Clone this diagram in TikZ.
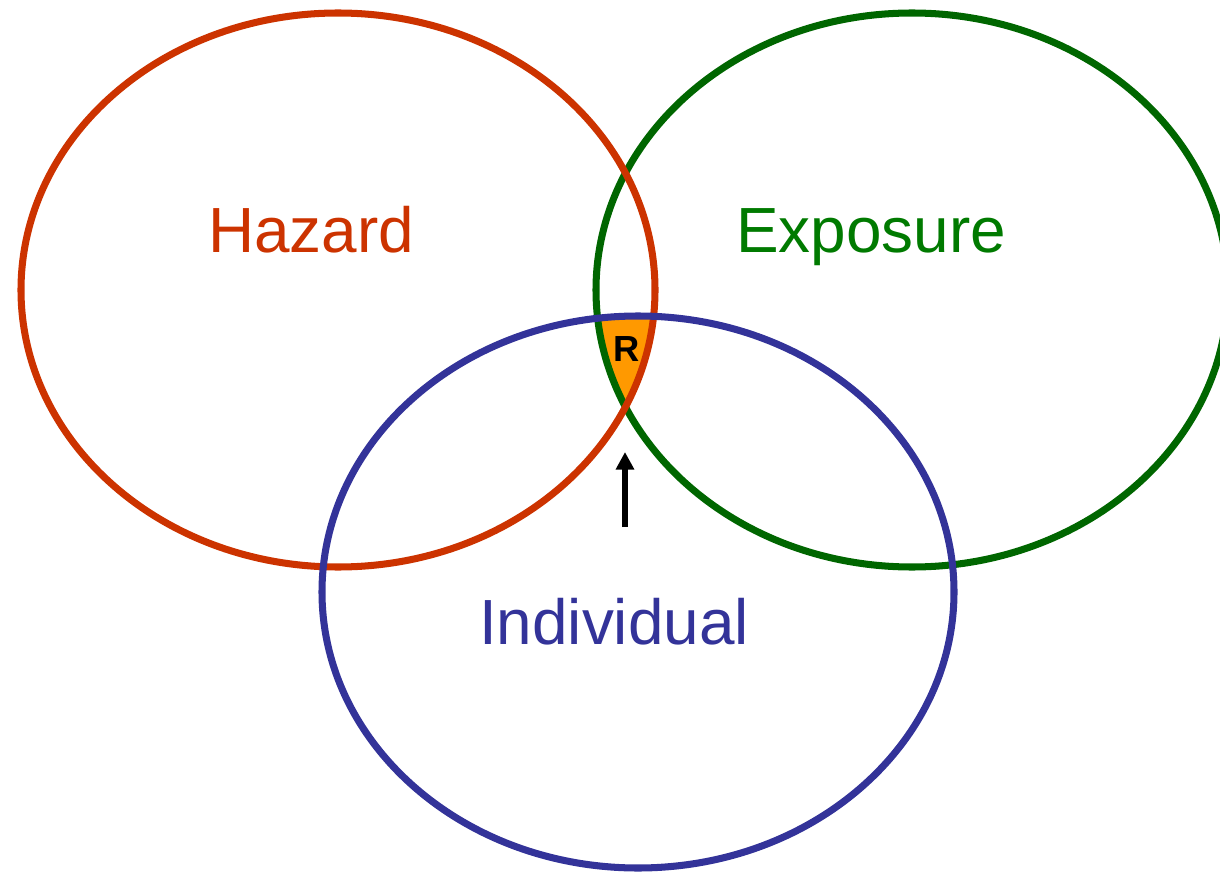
\documentclass[tikz,border=0pt]{standalone}
\usepackage{fontspec}
\setmainfont{Liberation Sans}
\usetikzlibrary{arrows.meta}
\definecolor{hazardred}{HTML}{CC3300}
\definecolor{exposuregreen}{HTML}{006600}
\definecolor{exposuretext}{HTML}{007A00}
\definecolor{individualblue}{HTML}{333399}
\definecolor{riskorange}{HTML}{FF9900}
\tikzset{
  ring/.style={line width=6pt},
  setlabel/.style={font=\fontsize{54.5}{58}\selectfont, inner sep=0pt, anchor=base},
}
\begin{document}
\begin{tikzpicture}[x=0.03cm, y=-0.03cm]
      \useasboundingbox (0,0) rectangle (1220,872);
      % overlap of all three sets
      \begin{scope}
        \clip (338,290) ellipse [x radius=317, y radius=277];
        \clip (912,290) ellipse [x radius=316, y radius=277];
        \fill[riskorange] (638,592) ellipse [x radius=316, y radius=276];
      \end{scope}
      % the three sets
      \draw[ring, exposuregreen] (912,290) ellipse [x radius=316, y radius=277];
      \draw[ring, hazardred] (338,290) ellipse [x radius=317, y radius=277];
      \draw[ring, individualblue] (638,592) ellipse [x radius=316, y radius=276];
      % labels
      \node[setlabel, text=hazardred] (hazard) at (311,252) {Hazard};
      \node[setlabel, text=exposuretext] (exposure) at (871,252) {Exposure};
      \node[setlabel, text=individualblue] (individual) at (614,644) {Individual};
      \node[font=\fontsize{31}{34}\selectfont\bfseries, inner sep=0pt] (risk) at (627,349) {R};
      % arrow to the overlap
      \coordinate (tail) at (625,527);
      \coordinate (tip) at (625,452);
      \draw[line width=5.2pt, -{Triangle[length=15pt,width=15pt]}] (tail) -- (tip);
    \end{tikzpicture}
\end{document}
